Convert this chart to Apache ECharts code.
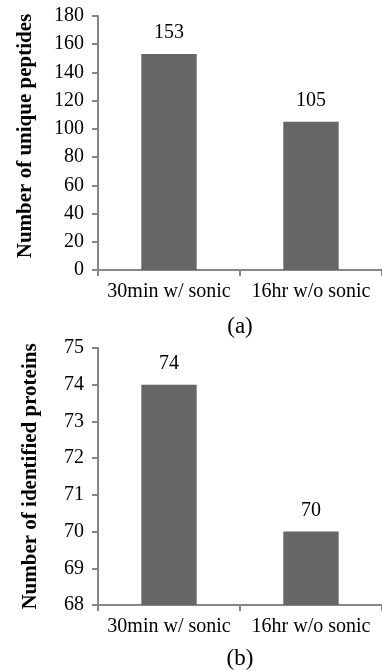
<!DOCTYPE html>
<html>
<head>
<meta charset="utf-8">
<script src="https://cdn.jsdelivr.net/npm/echarts@6/dist/echarts.min.js"></script>
<style>
  html, body { margin: 0; padding: 0; background: #fff; }
  #chart { width: 382px; height: 671px; }
</style>
</head>
<body>
<div id="chart"></div>
<script>
// Sample preparation conditions
const categories = ['30min w/ sonic', '16hr w/o sonic'];

// Panel (a): unique peptides
const peptideCounts = [153, 105];
const peptideTicks = { min: 0, max: 180, interval: 20 };

// Panel (b): identified proteins
const proteinCounts = [74, 70];
const proteinTicks = { min: 68, max: 75, interval: 1 };

const FONT = '"Liberation Serif", "Times New Roman", serif';
const AXIS_GREY = '#868686';
const BAR_GREY = '#666666';

function xAxisFor(gridIndex, name, nameGap) {
  return {
    type: 'category',
    gridIndex: gridIndex,
    data: categories,
    name: name,
    nameLocation: 'middle',
    nameGap: nameGap,
    nameTextStyle: { fontFamily: FONT, fontSize: 23, color: '#000' },
    axisLine: { lineStyle: { color: AXIS_GREY, width: 2 } },
    axisTick: { show: true, alignWithLabel: false, length: 6, lineStyle: { color: AXIS_GREY, width: 2 } },
    axisLabel: { interval: 0, hideOverlap: false, fontFamily: FONT, fontSize: 20, color: '#000', margin: 12 }
  };
}

function yAxisFor(gridIndex, name, ticks, nameGap, namePadding) {
  return {
    type: 'value',
    gridIndex: gridIndex,
    min: ticks.min,
    max: ticks.max,
    interval: ticks.interval,
    name: name,
    nameLocation: 'middle',
    nameGap: nameGap,
    nameTextStyle: { fontFamily: FONT, fontSize: 21, fontWeight: 'bold', color: '#000', padding: namePadding },
    axisLine: { show: true, lineStyle: { color: AXIS_GREY, width: 2 } },
    axisTick: { show: true, length: 6, lineStyle: { color: AXIS_GREY, width: 2 } },
    axisLabel: { fontFamily: FONT, fontSize: 20, color: '#000', margin: 14 },
    splitLine: { show: false }
  };
}

function barSeries(index, values) {
  return {
    type: 'bar',
    xAxisIndex: index,
    yAxisIndex: index,
    data: values,
    barWidth: '39%',
    itemStyle: { color: BAR_GREY },
    label: {
      show: true,
      position: 'top',
      distance: 11,
      fontFamily: FONT,
      fontSize: 20,
      color: '#000'
    }
  };
}

const chart = echarts.init(document.getElementById('chart'), null, { renderer: 'canvas' });
chart.setOption({
  animation: false,
  backgroundColor: '#fff',
  grid: [
    { left: 98, top: 16, width: 290, height: 254 },
    { left: 98, top: 348, width: 287, height: 257 }
  ],
  xAxis: [xAxisFor(0, '(a)', 45), xAxisFor(1, '(b)', 42)],
  yAxis: [
    yAxisFor(0, 'Number of unique peptides', peptideTicks, 62, [0, 0, 0, 14]),
    yAxisFor(1, 'Number of identified proteins', proteinTicks, 57, 0)
  ],
  series: [barSeries(0, peptideCounts), barSeries(1, proteinCounts)]
});
</script>
</body>
</html>
